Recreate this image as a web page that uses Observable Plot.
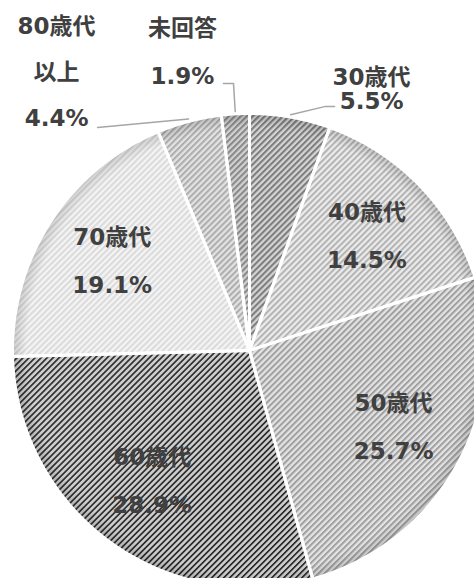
<!DOCTYPE html>
<html>
<head>
<meta charset="utf-8">
<script src="https://cdn.jsdelivr.net/npm/d3@7"></script>
<script src="https://cdn.jsdelivr.net/npm/@observablehq/plot@0.6"></script>
<style>
  html, body { margin: 0; padding: 0; background: #ffffff; }
  #chart { width: 474px; height: 578px; overflow: hidden; }
</style>
</head>
<body>
<div id="chart"></div>
<script>
// ---- data ----
const categories = ["30歳代", "40歳代", "50歳代", "60歳代", "70歳代", "80歳代以上", "未回答"];
const shares = [5.5, 14.5, 25.7, 28.9, 19.1, 4.4, 1.9];
const valueLabels = ["5.5%", "14.5%", "25.7%", "28.9%", "19.1%", "4.4%", "1.9%"];
const nameLines = [["30歳代"], ["40歳代"], ["50歳代"], ["60歳代"], ["70歳代"], ["80歳代", "以上"], ["未回答"]];

// ---- styles: hatch patterns (background, stripe colour, stripe width) ----
const hatchBg = ["#d4d4d4", "#ececec", "#e4e4e4", "#cdcdcd", "#f4f4f4", "#e2e2e2", "#d0d0d0"];
const hatchLine = ["#7a7a7a", "#b2b2b2", "#a0a0a0", "#262626", "#dadada", "#acacac", "#868686"];
const hatchWidth = [2, 2, 2, 1.6, 2, 2, 2];

// ---- layout ----
const W = 474, H = 578, CX = 249, CY = 350, RPX = 237;
const insideR = 0.69;
const insideSpacing = 48;
// outside labels: centre (in pie-radius units, y up) and leader points
const outside = {
  "30歳代": { c: [0.515, 1.101], spacing: 24, leader: [[0.321, 1.030], [0.359, 1.030]] },
  "80歳代以上": { c: [-0.814, 1.173], spacing: 46, leader: [[-0.641, 0.941]] },
  "未回答": { c: [-0.283, 1.257], spacing: 48, leader: [[-0.0675, 1.127], [-0.110, 1.127]] }
};

// pattern defs
const defsSvg = d3.select("body").append("svg")
  .attr("width", 0).attr("height", 0)
  .style("position", "absolute");
const defs = defsSvg.append("defs");
const fills = categories.map((c, i) => {
  const id = "hatch" + i;
  const p = defs.append("pattern")
    .attr("id", id)
    .attr("patternUnits", "userSpaceOnUse")
    .attr("width", 8).attr("height", 4.25)
    .attr("patternTransform", "rotate(-45)");
  p.append("rect").attr("width", 8).attr("height", 4.25).attr("fill", hatchBg[i]);
  p.append("rect").attr("y", 0).attr("width", 8).attr("height", hatchWidth[i]).attr("fill", hatchLine[i]);
  return `url(#${id})`;
});
const grad = defs.append("radialGradient").attr("id", "edgeShade");
grad.append("stop").attr("offset", "0.94").attr("stop-color", "#000").attr("stop-opacity", 0);
grad.append("stop").attr("offset", "1").attr("stop-color", "#000").attr("stop-opacity", 0.16);

// ---- geometry from data ----
const rows = categories.map((c, i) => ({ key: c, share: shares[i], value: valueLabels[i], name: nameLines[i] }));
const arcs = d3.pie().sort(null).value(d => d.share)(rows);
const polar = (a, r) => [r * Math.sin(a), r * Math.cos(a)];
const step = Math.PI / 720;

const slicePts = [];
for (const a of arcs) {
  slicePts.push({ key: a.data.key, x: 0, y: 0 });
  const n = Math.max(2, Math.ceil((a.endAngle - a.startAngle) / step));
  for (let k = 0; k <= n; k++) {
    const t = a.startAngle + (a.endAngle - a.startAngle) * k / n;
    const [x, y] = polar(t, 1);
    slicePts.push({ key: a.data.key, x, y });
  }
}
const circlePts = d3.range(0, 1440).map(k => { const [x, y] = polar(k * step, 1); return { x, y }; });

const leaderPts = [];
const textLines = [];
for (const a of arcs) {
  const d = a.data;
  const mid = (a.startAngle + a.endAngle) / 2;
  const lines = [...d.name, d.value];
  let cx, cy, spacing;
  if (outside[d.key]) {
    const o = outside[d.key];
    [cx, cy] = o.c; spacing = o.spacing;
    const [sx, sy] = polar(mid, 1.01);
    leaderPts.push({ key: d.key, x: sx, y: sy });
    for (const [lx, ly] of o.leader) leaderPts.push({ key: d.key, x: lx, y: ly });
  } else {
    [cx, cy] = polar(mid, insideR); spacing = insideSpacing;
  }
  lines.forEach((t, i) => {
    textLines.push({ key: d.key, t, x: cx, y: cy - (i - (lines.length - 1) / 2) * spacing / RPX });
  });
}

const chart = Plot.plot({
  width: W,
  height: H,
  margin: 0,
  x: { domain: [-CX / RPX, (W - CX) / RPX], axis: null },
  y: { domain: [-(H - CY) / RPX, CY / RPX], axis: null },
  color: { type: "ordinal", domain: categories, range: fills },
  style: { background: "#ffffff", overflow: "hidden" },
  marks: [
    Plot.line(slicePts, { x: "x", y: "y", z: "key", fill: "key", stroke: "none", curve: "linear-closed" }),
    Plot.line(circlePts, { x: "x", y: "y", fill: "url(#edgeShade)", stroke: "none", curve: "linear-closed" }),
    Plot.line(slicePts, { x: "x", y: "y", z: "key", fill: "none", stroke: "#ffffff", strokeWidth: 3, strokeLinejoin: "round", curve: "linear-closed" }),
    Plot.line(leaderPts, { x: "x", y: "y", z: "key", stroke: "#a6a6a6", strokeWidth: 1.5 }),
    Plot.text(textLines, {
      x: "x", y: "y", text: "t",
      fontSize: 23, fontWeight: "bold", fill: "#404040",
      fontFamily: "'DejaVu Sans', 'Noto Sans CJK JP', sans-serif"
    })
  ]
});
document.getElementById("chart").appendChild(chart);
</script>
</body>
</html>
